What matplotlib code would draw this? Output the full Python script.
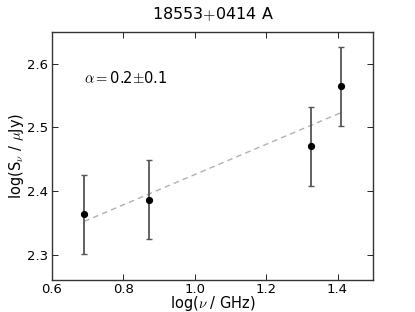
import numpy as np
import matplotlib
matplotlib.use('Agg')
import matplotlib.pyplot as plt

plt.rcParams['mathtext.fontset'] = 'cm'
plt.rcParams['mathtext.rm'] = 'DejaVu Sans'

# log frequency (GHz) and log flux density (uJy)
log_nu = [0.691, 0.871, 1.326, 1.410]
log_S = [2.363, 2.386, 2.470, 2.564]
log_S_err = [0.062, 0.062, 0.062, 0.062]

# fitted power law, drawn between the first and last frequency
fit_x = [0.691, 1.410]
fit_y = [2.352, 2.523]

fig = plt.figure(figsize=(4.15, 3.12), dpi=100)
ax = fig.add_axes([0.1245, 0.1026, 0.775, 0.7958])

ax.plot(fit_x, fit_y, '--', color='#b0b0b0', lw=1.0, dashes=(4, 3))
ax.errorbar(log_nu, log_S, yerr=log_S_err, fmt='o', color='black', ms=4.2,
            ecolor='#555555', elinewidth=1.3, capsize=2.5, capthick=1.0)

ax.text(0.10, 0.815, r'$\alpha$$=$0.2$\pm$0.1', transform=ax.transAxes,
        ha='left', va='center', fontsize=10.5)

ax.set_xlim(0.6, 1.5)
ax.set_ylim(2.26, 2.65)
ax.set_xticks([0.6, 0.8, 1.0, 1.2, 1.4])
ax.set_yticks([2.3, 2.4, 2.5, 2.6])
ax.tick_params(direction='in', top=True, right=True, length=4, width=0.6,
               labelsize=9.5)
ax.tick_params(axis='x', pad=2)
ax.tick_params(axis='y', pad=2.5)
for s in ax.spines.values():
    s.set_linewidth(1.0)
    s.set_color('#333333')

ax.set_xlabel(r'log($\nu$ / GHz)', fontsize=10.5, labelpad=-1)
ax.set_ylabel(r'log(S$_\nu$ / $\mu$Jy)', fontsize=10.5, labelpad=1)
ax.set_title(r'18553$+$0414 A', fontsize=11.5, pad=9)

fig.savefig('out.png', dpi=100)
